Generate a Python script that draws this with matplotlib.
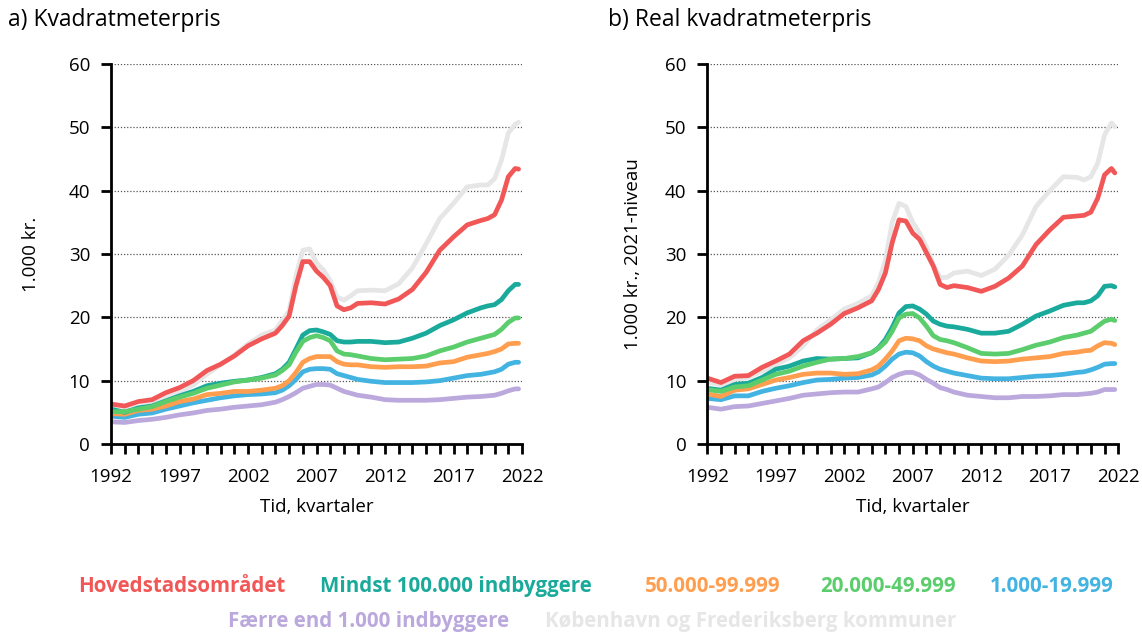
import numpy as np
import matplotlib.pyplot as plt

plt.rcParams['font.family'] = ['Open Sans', 'DejaVu Sans']

# Tidspunkter (år, tættere omkring toppen i 2006 og i slutningen)
years = [1992, 1993, 1994, 1995, 1996, 1997, 1998, 1999, 2000, 2001, 2002, 2003,
         2004, 2004.5, 2005, 2005.5, 2006, 2006.5, 2007, 2007.5, 2008, 2008.5,
         2009, 2009.5, 2010, 2011, 2012, 2013, 2014, 2015, 2016, 2017, 2018,
         2019, 2019.5, 2020, 2020.5, 2021, 2021.5, 2021.75]

# a) Kvadratmeterpris, 1.000 kr.
nom_hoved = [6.3, 6.0, 6.7, 7.0, 8.1, 8.9, 10.0, 11.6, 12.6, 13.9, 15.5, 16.6,
             17.5, 18.7, 20.2, 25.0, 28.8, 28.8, 27.3, 26.3, 25.0, 21.8,
             21.2, 21.5, 22.2, 22.3, 22.1, 22.9, 24.4, 27.1, 30.6, 32.7, 34.6,
             35.3, 35.6, 36.2, 38.5, 42.2, 43.5, 43.4]
nom_kbh = [5.5, 5.3, 5.8, 6.3, 7.3, 8.2, 9.3, 11.0, 12.5, 14.0, 15.8, 17.2,
           18.0, 19.5, 21.0, 26.5, 30.6, 30.8, 28.6, 27.5, 25.8, 23.2,
           22.7, 23.4, 24.2, 24.3, 24.2, 25.3, 27.8, 31.6, 35.6, 38.0, 40.6,
           40.9, 40.9, 41.9, 44.8, 49.1, 50.5, 50.8]
nom_100k = [5.5, 5.0, 5.7, 6.0, 6.8, 7.6, 8.3, 9.2, 9.6, 9.9, 10.1, 10.5,
            11.1, 11.8, 12.9, 15.0, 17.2, 17.9, 18.0, 17.7, 17.3, 16.3,
            16.1, 16.1, 16.2, 16.2, 16.0, 16.1, 16.7, 17.5, 18.7, 19.6, 20.7,
            21.5, 21.8, 22.0, 22.8, 24.2, 25.2, 25.2]
nom_50k = [4.8, 4.7, 5.3, 5.5, 6.0, 6.7, 7.1, 7.8, 8.0, 8.3, 8.3, 8.5,
           8.8, 9.2, 10.0, 11.3, 12.9, 13.5, 13.8, 13.8, 13.8, 13.0,
           12.6, 12.5, 12.5, 12.2, 12.1, 12.2, 12.2, 12.3, 12.8, 13.0, 13.7,
           14.1, 14.3, 14.6, 15.0, 15.8, 15.9, 15.9]
nom_20k = [5.1, 5.1, 5.5, 5.9, 6.7, 7.4, 8.0, 8.8, 9.3, 9.8, 10.1, 10.4,
           10.9, 11.6, 12.5, 14.5, 16.2, 16.8, 17.1, 16.8, 16.3, 14.7,
           14.2, 14.1, 13.9, 13.5, 13.3, 13.4, 13.5, 13.9, 14.7, 15.3, 16.1,
           16.7, 17.0, 17.3, 18.1, 19.2, 19.9, 19.9]
nom_1k = [4.4, 4.2, 4.7, 4.9, 5.5, 6.0, 6.5, 6.9, 7.3, 7.6, 7.8, 7.9,
          8.1, 8.5, 9.2, 10.2, 11.4, 11.8, 11.9, 11.9, 11.8, 11.1,
          10.8, 10.5, 10.2, 9.9, 9.7, 9.7, 9.7, 9.8, 10.0, 10.4, 10.8,
          11.0, 11.2, 11.4, 11.8, 12.6, 12.9, 12.9]
nom_under1k = [3.5, 3.4, 3.7, 3.9, 4.2, 4.6, 4.9, 5.3, 5.5, 5.8, 6.0, 6.2,
               6.6, 7.0, 7.5, 8.1, 8.8, 9.1, 9.4, 9.4, 9.3, 8.8,
               8.3, 8.0, 7.7, 7.4, 7.0, 6.9, 6.9, 6.9, 7.0, 7.2, 7.4,
               7.5, 7.6, 7.7, 8.0, 8.4, 8.7, 8.7]

# b) Real kvadratmeterpris, 1.000 kr., 2021-niveau
real_hoved = [10.4, 9.7, 10.7, 10.8, 12.1, 13.1, 14.2, 16.3, 17.5, 18.9, 20.6, 21.5,
              22.6, 24.4, 27.0, 31.8, 35.4, 35.2, 33.3, 32.3, 30.2, 28.1,
              25.2, 24.7, 25.0, 24.7, 24.1, 24.9, 26.2, 28.1, 31.5, 33.8, 35.8,
              36.0, 36.1, 36.6, 38.8, 42.5, 43.5, 42.8]
real_kbh = [9.8, 9.3, 10.2, 10.5, 11.5, 12.5, 13.6, 15.5, 18.0, 19.6, 21.3, 22.2,
            23.4, 25.5, 29.0, 35.0, 38.0, 37.5, 35.0, 33.3, 31.1, 28.3,
            26.3, 26.3, 27.0, 27.3, 26.6, 27.6, 29.8, 33.0, 37.5, 40.0, 42.2,
            42.1, 41.7, 42.2, 44.3, 48.8, 50.7, 50.1]
real_100k = [8.8, 8.5, 9.4, 9.6, 10.5, 11.8, 12.3, 13.1, 13.5, 13.4, 13.5, 13.6,
             14.4, 15.2, 16.5, 18.4, 20.7, 21.7, 21.8, 21.3, 20.5, 19.4,
             18.9, 18.6, 18.5, 18.1, 17.5, 17.5, 17.8, 18.9, 20.2, 21.0, 21.9,
             22.3, 22.3, 22.6, 23.4, 24.9, 25.0, 24.8]
real_50k = [7.9, 7.5, 8.5, 8.7, 9.4, 10.1, 10.5, 11.0, 11.2, 11.2, 11.0, 11.1,
            11.7, 12.3, 13.4, 14.7, 16.3, 16.7, 16.6, 16.3, 15.5, 15.0,
            14.7, 14.4, 14.2, 13.6, 13.1, 13.0, 13.1, 13.4, 13.6, 13.8, 14.3,
            14.5, 14.7, 14.8, 15.5, 16.0, 15.9, 15.7]
real_20k = [8.6, 8.3, 9.0, 9.2, 10.1, 11.0, 11.5, 12.3, 12.9, 13.4, 13.5, 13.8,
            14.4, 15.1, 16.1, 17.8, 19.9, 20.5, 20.6, 19.9, 18.6, 17.1,
            16.5, 16.3, 16.0, 15.2, 14.3, 14.2, 14.3, 14.9, 15.6, 16.1, 16.8,
            17.2, 17.5, 17.8, 18.6, 19.4, 19.7, 19.5]
real_1k = [7.2, 7.0, 7.6, 7.6, 8.3, 8.8, 9.2, 9.7, 10.1, 10.2, 10.4, 10.5,
           10.9, 11.4, 12.3, 13.4, 14.2, 14.5, 14.4, 13.9, 13.0, 12.3,
           11.8, 11.5, 11.2, 10.8, 10.4, 10.3, 10.3, 10.5, 10.7, 10.8, 11.0,
           11.3, 11.4, 11.7, 12.1, 12.6, 12.7, 12.7]
real_under1k = [5.8, 5.5, 5.9, 6.0, 6.4, 6.8, 7.2, 7.7, 7.9, 8.1, 8.2, 8.2,
                8.7, 9.0, 9.7, 10.5, 11.0, 11.3, 11.3, 10.9, 10.2, 9.6,
                8.9, 8.6, 8.2, 7.7, 7.5, 7.3, 7.3, 7.5, 7.5, 7.6, 7.8,
                7.8, 7.9, 8.0, 8.2, 8.6, 8.6, 8.6]

labels = ['Hovedstadsområdet', 'Mindst 100.000 indbyggere', '50.000-99.999',
          '20.000-49.999', '1.000-19.999', 'Færre end 1.000 indbyggere',
          'København og Frederiksberg kommuner']
colors = ['#F25757', '#1AAA9C', '#FF9E4F', '#5BCD6C', '#43B3E2', '#BBA8DD', '#E6E6E6']

nom = [nom_hoved, nom_100k, nom_50k, nom_20k, nom_1k, nom_under1k, nom_kbh]
real = [real_hoved, real_100k, real_50k, real_20k, real_1k, real_under1k, real_kbh]

# tegnerækkefølge: grå bagerst, rød forrest
order = [6, 5, 4, 2, 1, 3, 0]

fig = plt.figure(figsize=(11.42, 6.35), dpi=100)
ax1 = fig.add_axes([0.0972, 0.3008, 0.3599, 0.5984])
ax2 = fig.add_axes([0.6193, 0.3008, 0.3599, 0.5984])

panels = [(ax1, nom, 'a) Kvadratmeterpris', '1.000 kr.', 0.007, -0.173),
          (ax2, real, 'b) Real kvadratmeterpris', '1.000 kr., 2021-niveau', 0.532, -0.158)]
for ax, data, title, ylab, tx, lx in panels:
    for i in order:
        ax.plot(years, data[i], color=colors[i], lw=3.4, solid_capstyle='round')
    ax.set_xlim(1992, 2022)
    ax.set_ylim(0, 60)
    ax.set_yticks(range(0, 61, 10))
    ax.set_xticks(range(1992, 2023, 5))
    ax.set_xticks(range(1992, 2023), minor=True)
    for v in range(10, 61, 10):
        ax.axhline(v, color='#555555', lw=0.9, ls=(0, (1, 1.5)), zorder=0)
    for s in ['top', 'right']:
        ax.spines[s].set_visible(False)
    for s in ['left', 'bottom']:
        ax.spines[s].set_linewidth(2)
    ax.tick_params(axis='y', length=7, width=2, labelsize=13.5, pad=8)
    ax.tick_params(axis='x', which='both', length=7, width=2, labelsize=13.5, pad=10)
    ax.set_xlabel('Tid, kvartaler', fontsize=13.5, labelpad=9)
    ax.set_ylabel(ylab, fontsize=13.5)
    ax.yaxis.set_label_coords(lx, 0.5)
    fig.text(tx, 0.968, title, fontsize=16.5, va='center')

# Signaturforklaring
row1 = [(0, 0.068), (1, 0.280), (2, 0.565), (3, 0.718), (4, 0.867)]
row2 = [(5, 0.200), (6, 0.477)]
for i, x in row1:
    fig.text(x, 0.076, labels[i], color=colors[i], fontsize=14.8, fontweight='bold', va='center')
for i, x in row2:
    fig.text(x, 0.022, labels[i], color=colors[i], fontsize=14.8, fontweight='bold', va='center')

fig.savefig('out.png', dpi=100)
